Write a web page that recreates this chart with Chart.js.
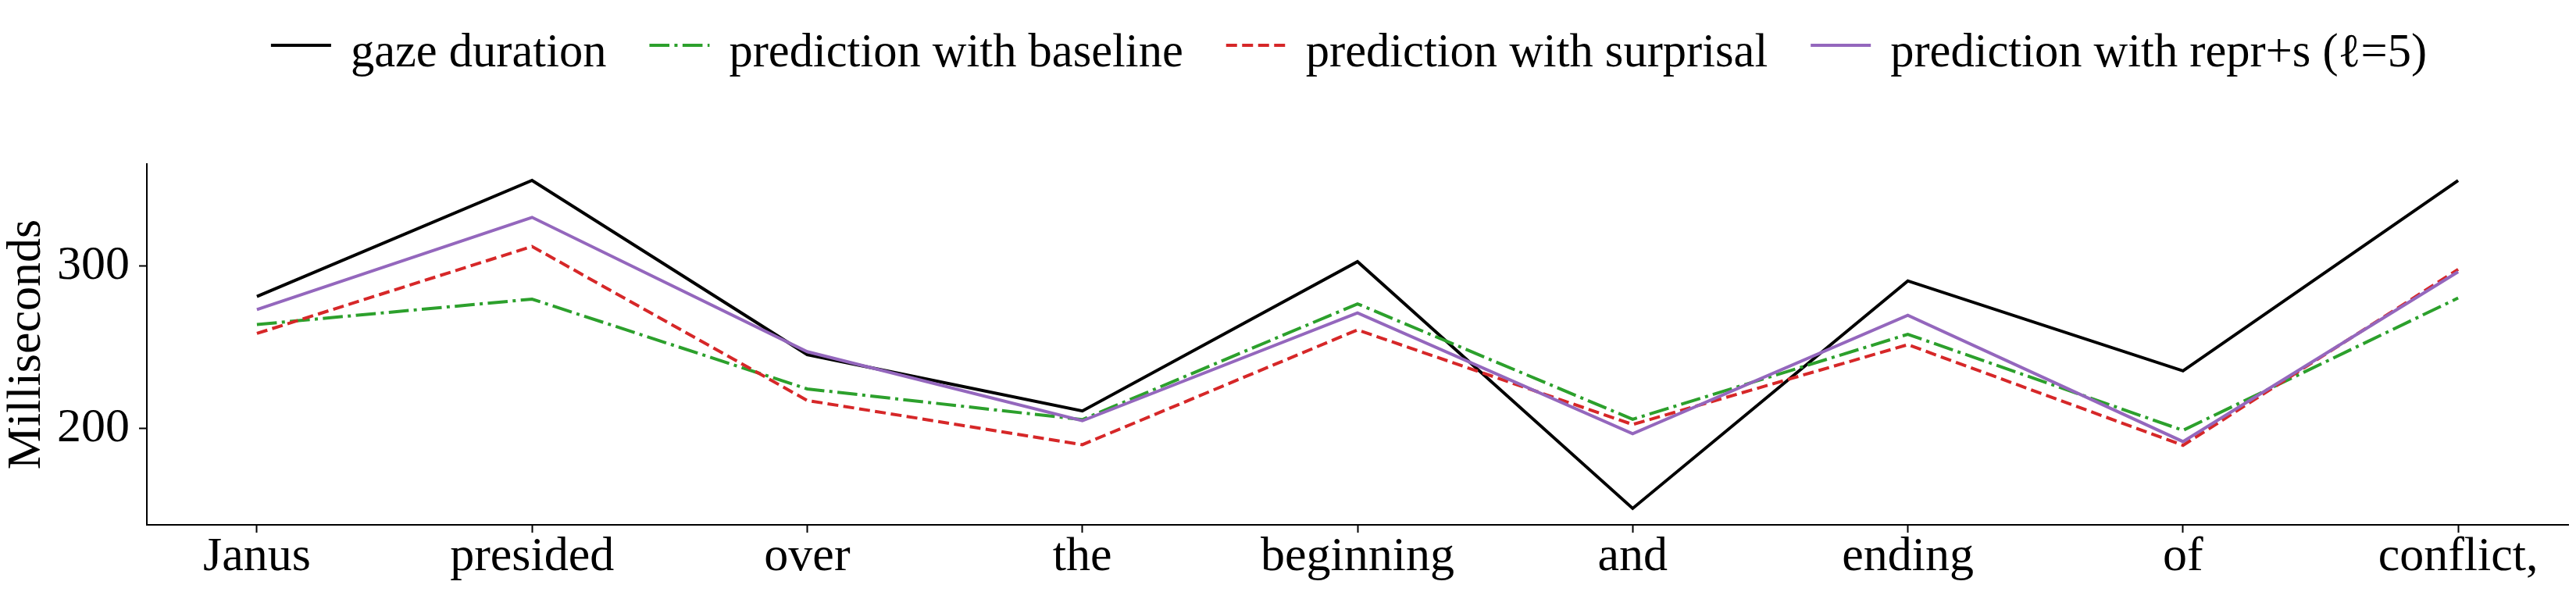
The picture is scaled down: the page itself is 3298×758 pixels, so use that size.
<!DOCTYPE html>
<html>
<head>
<meta charset="utf-8">
<script src="https://cdn.jsdelivr.net/npm/chart.js@4/dist/chart.umd.min.js"></script>
<style>
  html, body { margin: 0; padding: 0; background: #fff; }
  #chart { display: block; }
</style>
</head>
<body>
<canvas id="chart" width="3298" height="758"></canvas>
<script>
const words = ['Janus', 'presided', 'over', 'the', 'beginning', 'and', 'ending', 'of', 'conflict,'];
const gazeDuration = [281.2, 352.6, 245.5, 210.8, 302.7, 150.9, 290.8, 235.5, 352.6];
const predBaseline = [264.0, 279.6, 224.4, 205.5, 276.7, 205.7, 258.0, 198.9, 280.3];
const predSurprisal = [258.5, 312.0, 217.3, 190.1, 260.7, 202.5, 251.6, 189.7, 297.9];
const predRepr = [273.2, 329.9, 247.3, 204.8, 271.1, 196.8, 269.7, 192.0, 296.4];
const yTicks = [200, 300];

const FONT = "'Liberation Serif', 'Times New Roman', serif";
const FS = 62;
const LEGEND_FS = 60.5;

const toPoints = arr => arr.map((v, i) => ({ x: i, y: v }));

// legend drawn by hand so it sits where matplotlib put it
const legendPlugin = {
    id: 'mplLegend',
    afterDraw(chart) {
        const ctx = chart.ctx;
        const handle = 77, gap = 25, between = 55;
        const lineY = 58, textY = 85;
        ctx.save();
        ctx.font = `${LEGEND_FS}px ${FONT}`;
        const items = chart.data.datasets.map(ds => ({
            ds, w: ctx.measureText(ds.label).width
        }));
        const total = items.reduce((s, it) => s + handle + gap + it.w, 0) + between * (items.length - 1);
        let x = 1727 - total / 2;
        items.forEach(it => {
            ctx.beginPath();
            ctx.strokeStyle = it.ds.borderColor;
            ctx.lineWidth = it.ds.borderWidth;
            ctx.setLineDash(it.ds.borderDash || []);
            ctx.lineCap = 'butt';
            ctx.moveTo(x, lineY);
            ctx.lineTo(x + handle, lineY);
            ctx.stroke();
            ctx.setLineDash([]);
            ctx.fillStyle = '#000';
            ctx.textBaseline = 'alphabetic';
            ctx.textAlign = 'left';
            ctx.fillText(it.ds.label, x + handle + gap, textY);
            x += handle + gap + it.w + between;
        });
        ctx.restore();
    }
};

new Chart(document.getElementById('chart'), {
    type: 'line',
    data: {
        datasets: [
            {
                label: 'gaze duration',
                data: toPoints(gazeDuration),
                borderColor: '#000000',
                borderWidth: 4,
                order: 4
            },
            {
                label: 'prediction with baseline',
                data: toPoints(predBaseline),
                borderColor: '#2ca02c',
                borderWidth: 4,
                borderDash: [25.6, 6.4, 4, 6.4],
                order: 3
            },
            {
                label: 'prediction with surprisal',
                data: toPoints(predSurprisal),
                borderColor: '#d62728',
                borderWidth: 4,
                borderDash: [14, 6.5],
                order: 2
            },
            {
                label: 'prediction with repr+s (\u2113=5)',
                data: toPoints(predRepr),
                borderColor: '#9467bd',
                borderWidth: 4,
                order: 1
            }
        ]
    },
    options: {
        responsive: false,
        animation: false,
        events: [],
        layout: { padding: { top: 210, right: 10, left: 0, bottom: 0 } },
        elements: {
            point: { radius: 0 },
            line: { tension: 0, fill: false }
        },
        plugins: {
            legend: { display: false },
            tooltip: { enabled: false }
        },
        scales: {
            x: {
                type: 'linear',
                min: -0.4,
                max: 8.4,
                afterBuildTicks: scale => { scale.ticks = words.map((w, i) => ({ value: i })); },
                afterFit: scale => { scale.height = 86; },
                ticks: {
                    autoSkip: false,
                    maxRotation: 0,
                    padding: 1,
                    color: '#000',
                    font: { family: FONT, size: FS, lineHeight: 1.0 },
                    callback: v => words[v]
                },
                grid: {
                    drawOnChartArea: false,
                    drawTicks: true,
                    tickLength: 10,
                    tickWidth: 2,
                    tickColor: '#000'
                },
                border: { color: '#000', width: 2 }
            },
            y: {
                min: 140.8,
                max: 362.7,
                afterBuildTicks: scale => { scale.ticks = yTicks.map(v => ({ value: v })); },
                afterFit: scale => { scale.width = 188; },
                ticks: {
                    padding: 12,
                    color: '#000',
                    font: { family: FONT, size: FS }
                },
                grid: {
                    drawOnChartArea: false,
                    drawTicks: true,
                    tickLength: 10,
                    tickWidth: 2,
                    tickColor: '#000'
                },
                border: { color: '#000', width: 2 },
                title: {
                    display: true,
                    text: 'Milliseconds',
                    color: '#000',
                    padding: { top: 4, bottom: 0 },
                    font: { family: FONT, size: FS, lineHeight: 1.0 }
                }
            }
        }
    },
    plugins: [legendPlugin]
});
</script>
</body>
</html>
